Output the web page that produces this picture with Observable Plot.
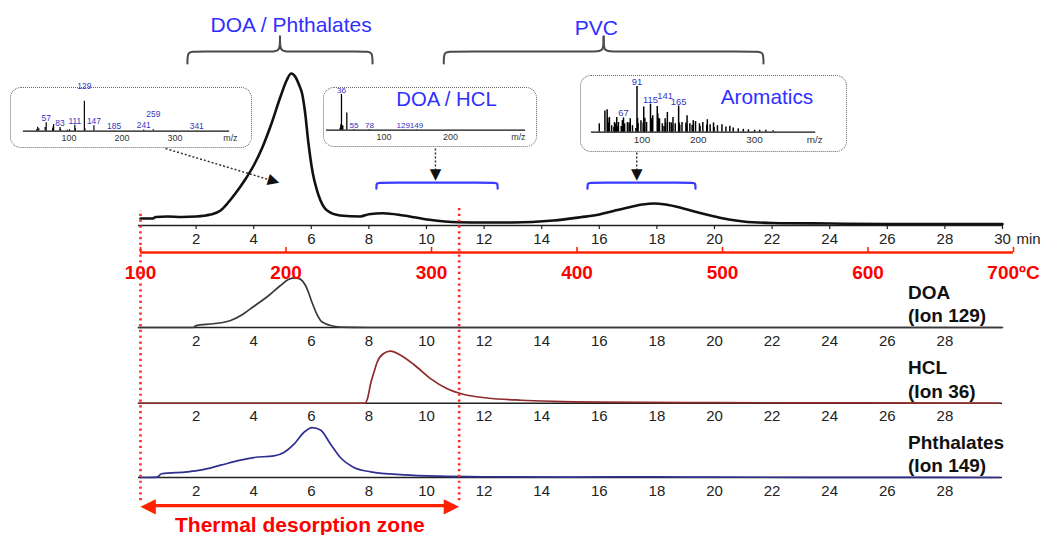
<!DOCTYPE html>
<html><head><meta charset="utf-8">
<script src="https://cdn.jsdelivr.net/npm/d3@7"></script>
<script src="https://cdn.jsdelivr.net/npm/@observablehq/plot@0.6"></script>
<style>
html,body{margin:0;padding:0;background:#fff;}
#fig{position:relative;width:1046px;height:535px;overflow:hidden;background:#fff;}
#fig svg.layer{position:absolute;left:0;top:0;}
.inset{position:absolute;background:#fff;border:1.6px dotted #666;border-radius:11px;box-sizing:border-box;}
.inset svg{position:absolute;left:-1.6px;top:-1.6px;}
</style></head><body><div id="fig"></div>
<script>
// ---------------- DATA ----------------
// time axis ticks (min) and temperature axis ticks (°C)
const mainTicks = [2,4,6,8,10,12,14,16,18,20,22,24,26,28,30];
const panelTicks = [2,4,6,8,10,12,14,16,18,20,22,24,26,28];
const tempTicks = [100,200,300,400,500,600,700];

// total ion chromatogram [time (min), abundance]
const tic = [[0.07,4.7],[0.5,4.7],[0.6,5.7],[1,6],[1.5,5.7],[2,6],[2.5,7.3],[2.85,10],[3.1,15],[3.37,21.5],[3.7,30.5],[4.0,40],[4.3,52],[4.6,67],[4.95,87],[5.15,97],[5.3,101.3],[5.45,99],[5.57,94],[5.68,88],[5.78,76],[5.9,55],[6.05,35],[6.2,23.3],[6.32,16.7],[6.55,10],[7.0,6.7],[7.7,6],[8.0,7.5],[8.5,8.2],[9.2,6.7],[10.1,3.8],[11.1,2.2],[12,2],[13,2],[14.4,3.3],[15.35,5.5],[16,7.3],[16.5,9.7],[17,12],[17.5,14],[17.9,14.7],[18.3,14],[18.8,12],[19.3,9.3],[20,6],[20.5,4],[21,2.7],[22,1.7],[24,1.3],[26,1],[28,1],[30,1]];

// extracted ion chromatograms [time (min), abundance]
const doaTrace = [[0,0],[1.9,0],[2.0,1.3],[2.6,2.5],[3.2,4.7],[3.6,8.5],[4.0,14],[4.5,21],[4.93,28],[5.2,32],[5.4,33.1],[5.55,32.8],[5.68,31.3],[5.8,28],[5.9,23.5],[6.0,18],[6.09,13.5],[6.2,8.5],[6.32,4.7],[6.5,2.5],[6.67,1.3],[7,0.3],[8,0],[30,0]];
const hclTrace = [[0,0],[7.85,0],[7.95,3],[8.06,13],[8.18,21],[8.29,27.5],[8.5,33],[8.75,34.7],[9.1,32],[9.56,25.8],[10.14,16.4],[10.7,9.8],[11.3,5.8],[12.1,3.5],[13.3,2],[14.4,1.3],[16,0.8],[20,0.4],[25,0.2],[29.9,0]];
const phthTrace = [[0.07,0],[0.65,0.3],[0.8,2.5],[1.69,3.8],[2.15,4.9],[2.85,8.2],[3.54,11.6],[4.0,13.3],[4.7,14.4],[5.05,16.7],[5.4,22.2],[5.74,30],[6.03,33.3],[6.32,31.6],[6.67,22.2],[7.01,13.3],[7.48,6.7],[8.06,3.8],[9.2,1.8],[10.4,0.9],[12,0.5],[15,0.3],[18,0.4],[20,0.2],[25,0.1],[29.9,0]];

const ionNames = ["DOA","HCL","Phthalates"];
const ionLabels = ["(Ion 129)","(Ion 36)","(Ion 149)"];
const ionTraces = [doaTrace, hclTrace, phthTrace];

// mass spectra [m/z, relative intensity]
const spectrumDOA = [[39,0.05],[41,0.13],[43,0.08],[55,0.12],[57,0.28],[69,0.08],[70,0.14],[71,0.22],[83,0.12],[84,0.06],[97,0.03],[101,0.05],[111,0.2],[112,0.08],[129,1.0],[130,0.08],[147,0.18],[185,0.01],[241,0.04],[259,0.05],[341,0.01]];
const labelsDOA = [57,83,111,129,147,185,241,259,341];
const spectrumHCL = [[34,0.05],[35,0.15],[36,1.0],[37,0.1],[38,0.12],[44,0.48],[55,0.015],[78,0.015],[129,0.01],[149,0.01]];
const labelsHCL = [36,55,78,129,149];
const spectrumAromatics = [[24,.18],[34,.46],[38,.49],[39,.3],[40,.2],[42,.32],[46,.14],[50,.1],[51,.21],[52,.12],[53,.18],[55,.32],[56,.12],[58,.21],[63,.12],[65,.25],[66,.12],[67,.31],[69,.18],[74,.21],[77,.2],[78,.15],[79,.29],[83,.14],[89,.08],[91,1.0],[92,.3],[93,.18],[98,.25],[102,.2],[103,.55],[104,.12],[105,.3],[108,.21],[115,.61],[116,.3],[117,.25],[119,.36],[127,.56],[128,.4],[129,.3],[131,.29],[136,.18],[139,.12],[141,.29],[142,.2],[145,.43],[149,.21],[152,.2],[153,.15],[155,.32],[159,.18],[165,.57],[166,.2],[167,.15],[171,.21],[178,.2],[179,.15],[180,.36],[185,.18],[189,.15],[191,.25],[195,.23],[202,.18],[203,.12],[208,.21],[215,.15],[216,.27],[221,.16],[227,.2],[228,.1],[234,.14],[242,.16],[249,.11],[256,.13],[262,.09],[271,.07],[280,.06],[289,.05],[300,.04],[309,.04],[320,.04],[333,.03]];
const labelsAromatics = [67,91,115,141,165];

// annotations
const braceSpans = [[1.7,8.125],[10.6,21.7]];
const braceTitles = ["DOA / Phthalates","PVC"];
const braceTitleTimes = [5.3,15.9];
const bracketSpans = [[8.26,12.47],[15.59,19.34]];
const desorptionZone = [100,319];

// ---------------- LAYOUT ----------------
const FONT = '"Liberation Sans", Arial, sans-serif';
const W = 1046, H = 535;
const yDom = [-206.67, 150];
const panelBase = [-68, -118.5, -168];
const ionColors = ["#3a3a3a", "#8e2a2a", "#2f2f8f"];
const RED = "#ff2200";
const fig = document.getElementById("fig");

function layer(xScale, marks) {
  const svg = Plot.plot({
    width: W, height: H, margin: 0,
    style: {background: "transparent", overflow: "visible", fontFamily: FONT},
    x: {...xScale, axis: null},
    y: {domain: yDom, range: [H, 0], axis: null},
    marks: marks.filter(Boolean)
  });
  svg.classList.add("layer");
  fig.appendChild(svg);
}

function pathPts(id, pts) { return pts.map(([x, y]) => ({id, x, y})); }

// braces
const braceData = [];
braceSpans.forEach(([a, b], i) => {
  const m = (a + b) / 2, r = 0.25, yEnd = 108, yBar = 116, yTip = 126;
  braceData.push(...pathPts("b" + i + "L", [[a,yEnd],[a,yBar],[a+r,yBar],[m-r,yBar],[m,yBar],[m,yTip]]));
  braceData.push(...pathPts("b" + i + "R", [[m,yTip],[m,yBar],[m+r,yBar],[b-r,yBar],[b,yBar],[b,yEnd]]));
});
const bracketData = [];
bracketSpans.forEach(([a, b], i) => {
  const yEnd = 24.5, yTop = 28.6, r = 0.12;
  bracketData.push(...pathPts("k" + i, [[a,yEnd],[a,yTop],[a+r,yTop],[b-r,yTop],[b,yTop],[b,yEnd]]));
});
// dotted arrows from insets: [x1,y1,x2,y2,rotate]
const arrows = [[0.94,51.3,4.66,29.8,-73.3],[10.31,51.3,10.31,34.3,0],[17.3,48.7,17.3,34.3,0]];

const timeMarks = [
  Plot.ruleY([0], {x1: 0, x2: 30, stroke: "#222", strokeWidth: 1.3}),
  Plot.ruleX(mainTicks, {x: d => d, y1: 0, y2: -2.7, stroke: "#222", strokeWidth: 1.2}),
  Plot.text(mainTicks, {x: d => d, y: -8.8, text: d => String(d), fill: "#222", fontSize: 15, fontFamily: FONT}),
  Plot.text(["min"], {x: 30, y: -8.8, dx: 14, textAnchor: "start", fill: "#222", fontSize: 15, fontFamily: FONT}),
  Plot.line(tic, {x: d => d[0], y: d => d[1], stroke: "#111", strokeWidth: 2.6, curve: "monotone-x"}),
  Plot.line(braceData, {x: "x", y: "y", z: "id", stroke: "#4a4a4a", strokeWidth: 2, curve: "basis"}),
  Plot.text(braceTitles, {x: (d, i) => braceTitleTimes[i], y: (d, i) => i === 0 ? 133.7 : 131.7, text: d => d, fill: "#2f2fff", fontSize: 21, fontFamily: FONT}),
  Plot.line(bracketData, {x: "x", y: "y", z: "id", stroke: "#3b3bff", strokeWidth: 2.2, curve: "basis"}),
  Plot.link(arrows, {x1: d => d[0], y1: d => d[1], x2: d => d[2], y2: d => d[3], stroke: "#333", strokeWidth: 1.5, strokeDasharray: "2,2"}),
  Plot.text(arrows, {x: d => d[2], y: d => d[3], text: () => "\u25BC", rotate: d => d[4], fill: "#111", fontSize: 15, fontFamily: "DejaVu Sans"}),
];
ionTraces.forEach((trace, i) => {
  const base = panelBase[i];
  timeMarks.push(
    Plot.ruleY([base], {x1: 0, x2: 30, stroke: "#222", strokeWidth: 1.3}),
    Plot.text(panelTicks, {x: d => d, y: base - 8.8, text: d => String(d), fill: "#222", fontSize: 15, fontFamily: FONT}),
    Plot.line(trace, {x: d => d[0], y: d => base + d[1], stroke: ionColors[i], strokeWidth: 1.7, curve: "monotone-x"}),
    Plot.text([ionNames[i]], {x: 26.72, y: base + 23.3, textAnchor: "start", fill: "#111", fontWeight: "bold", fontSize: 19, fontFamily: FONT}),
    Plot.text([ionLabels[i]], {x: 26.72, y: base + 7.7, textAnchor: "start", fill: "#111", fontWeight: "bold", fontSize: 19, fontFamily: FONT})
  );
});
layer({domain: [0, 30], range: [138, 1002]}, timeMarks);

// temperature overlay
const zoneMid = (desorptionZone[0] + desorptionZone[1]) / 2;
layer({domain: [100, 700], range: [140, 1013]}, [
  Plot.ruleY([-18], {x1: 100, x2: 700, stroke: RED, strokeWidth: 2.3}),
  Plot.ruleX(tempTicks, {x: d => d, y1: -18, y2: -14.6, stroke: RED, strokeWidth: 1.6}),
  Plot.text(tempTicks, {x: d => d, y: -31.3, text: d => d === 700 ? "700\u00BAC" : String(d), fill: "#ff0000", fontWeight: "bold", fontSize: 19, fontFamily: FONT}),
  Plot.ruleX(desorptionZone, {x: d => d, y1: -183.5, y2: (d, i) => i === 0 ? 10 : 13.3, stroke: "#ff2a2a", strokeWidth: 2.6, strokeDasharray: "2.2,3.6"}),
  Plot.ruleY([-186.7], {x1: desorptionZone[0] + 6, x2: desorptionZone[1] - 6, stroke: RED, strokeWidth: 3.2}),
  Plot.text(["\u25C0"], {x: desorptionZone[0], y: -186.7, textAnchor: "start", fill: RED, fontSize: 20, fontFamily: "DejaVu Sans"}),
  Plot.text(["\u25B6"], {x: desorptionZone[1], y: -186.7, textAnchor: "end", fill: RED, fontSize: 20, fontFamily: "DejaVu Sans"}),
  Plot.text(["Thermal desorption zone"], {x: zoneMid, y: -200, fill: "#ff0000", fontWeight: "bold", fontSize: 21, fontFamily: FONT}),
]);

// mass spectrum insets
function spectrumInset(cfg) {
  const [d0, d1] = cfg.domain, [r0, r1] = cfg.xRange;
  const pxPerMz = (r1 - r0) / (d1 - d0);
  const unitPerPx = 1 / (cfg.yRange[0] - cfg.yRange[1]);
  // label placement: sit above the tallest bar under the label; lift a label that collides with its left neighbour
  let prevRight = -Infinity, prevLift = 0;
  const placed = cfg.labels.map(mz => {
    const w = String(mz).length * 0.556 * cfg.labelSize;
    const half = w / 2 / pxPerMz;
    const h = d3.max(cfg.peaks.filter(p => Math.abs(p[0] - mz) <= half), p => p[1]) ?? 0;
    const px = r0 + (mz - d0) * pxPerMz;
    let lift = 0;
    if (px - w / 2 < prevRight - 1 && prevLift === 0) lift = cfg.labelSize * 1.3;
    prevRight = px + w / 2; prevLift = lift;
    return {mz, y: h + lift * unitPerPx};
  });
  const div = document.createElement("div");
  div.className = "inset";
  Object.assign(div.style, {left: cfg.left + "px", top: cfg.top + "px", width: cfg.width + "px", height: cfg.height + "px"});
  const svg = Plot.plot({
    width: cfg.width, height: cfg.height, margin: 0,
    style: {background: "transparent", overflow: "visible", fontFamily: FONT},
    x: {domain: cfg.domain, range: cfg.xRange, axis: null},
    y: {domain: [0, 1], range: cfg.yRange, axis: null},
    marks: [
      Plot.ruleY([0], {x1: d0, x2: d1, stroke: "#111", strokeWidth: 1.3}),
      Plot.ruleX(cfg.peaks, {x: d => d[0], y1: 0, y2: d => d[1], stroke: "#000", strokeWidth: cfg.barWidth}),
      Plot.text(placed, {x: "mz", y: "y", text: d => String(d.mz), dy: -1.5, lineAnchor: "bottom", fill: "#3535c0", fontSize: cfg.labelSize, fontFamily: FONT}),
      Plot.text(cfg.ticks, {x: d => d, y: 0, dy: cfg.tickDy, lineAnchor: "top", text: d => String(d), fill: "#333", fontSize: cfg.tickSize, fontFamily: FONT}),
      Plot.text(["m/z"], {x: d1, y: 0, dy: cfg.tickDy, dx: cfg.mzDx, lineAnchor: "top", textAnchor: "end", fill: "#333", fontSize: cfg.tickSize, fontFamily: FONT}),
      cfg.title ? Plot.text([cfg.title], {x: cfg.titleAt[0], y: cfg.titleAt[1], fill: "#2f2fff", fontSize: cfg.titleSize, fontFamily: FONT}) : null
    ].filter(Boolean)
  });
  div.appendChild(svg);
  fig.appendChild(div);
}
spectrumInset({left: 10, top: 87, width: 242, height: 61, domain: [14, 403], xRange: [14, 222], yRange: [45, 15],
  peaks: spectrumDOA, labels: labelsDOA, ticks: [100, 200, 300], labelSize: 8.5, tickSize: 9, tickDy: 4, mzDx: 8, barWidth: 1.2});
spectrumInset({left: 323, top: 87, width: 214, height: 60, domain: [13.4, 313], xRange: [4, 205], yRange: [44, 8],
  peaks: spectrumHCL, labels: labelsHCL, ticks: [100, 200], labelSize: 8.2, tickSize: 9, tickDy: 3.5, mzDx: 0, barWidth: 1.3,
  title: "DOA / HCL", titleAt: [194, 0.85], titleSize: 20.5});
spectrumInset({left: 580, top: 75, width: 267, height: 77, domain: [10, 408.6], xRange: [12, 238], yRange: [58, 12],
  peaks: spectrumAromatics, labels: labelsAromatics, ticks: [100, 200, 300], labelSize: 9.5, tickSize: 10, tickDy: 4, mzDx: 7, barWidth: 1.5,
  title: "Aromatics", titleAt: [322, 0.75], titleSize: 21});
</script></body></html>
